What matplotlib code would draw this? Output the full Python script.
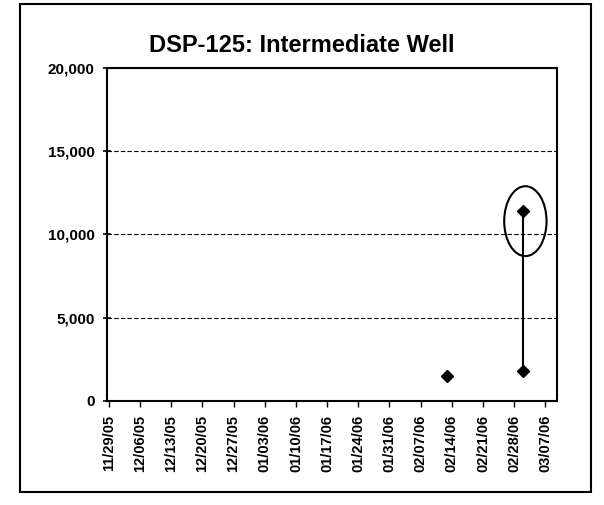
import datetime as dt
import matplotlib
matplotlib.use("Agg")
import matplotlib.pyplot as plt
import matplotlib.dates as mdates
from matplotlib.patches import Ellipse, Rectangle

# data
single_dates = [dt.date(2006, 2, 13)]
single_vals = [1500]
pair_dates = [dt.date(2006, 3, 2), dt.date(2006, 3, 2)]
pair_vals = [1800, 11400]

tick_dates = [dt.date(2005, 11, 29) + dt.timedelta(days=7 * i) for i in range(15)]
yticks = [0, 5000, 10000, 15000, 20000]

plt.rcParams['font.family'] = ['Liberation Sans', 'DejaVu Sans']

fig = plt.figure(figsize=(6.04, 5.05), dpi=100)
ax = fig.add_axes([107 / 604, 1 - 401 / 505, (557 - 107) / 604, (401 - 68) / 505])

# outer chart border
fig.add_artist(Rectangle((20 / 604, 1 - 492 / 505), (591 - 20) / 604, (492 - 4) / 505,
                         transform=fig.transFigure, fill=False, lw=1.5, ec='black'))

ax.plot(single_dates, single_vals, 'D', color='black', ms=6)
ax.plot(pair_dates, pair_vals, '-D', color='black', ms=6, lw=1.5)

# hand drawn circle around the high reading
cx = mdates.date2num(pair_dates[1])
ax.add_patch(Ellipse((cx + 0.5, 10800), 9.5, 4200, fill=False, lw=1.5, ec='black'))

ax.set_ylim(0, 20000)
ax.set_xlim(mdates.date2num(dt.date(2005, 11, 29)) - 0.4, mdates.date2num(dt.date(2006, 3, 9)) + 0.6)
ax.set_yticks(yticks)
ax.set_yticklabels([f"{v:,}" for v in yticks], fontsize=11, fontweight='bold')
ax.set_xticks(tick_dates)
ax.set_xticklabels([d.strftime('%m/%d/%y') for d in tick_dates], rotation=90,
                   fontsize=10.5, fontweight='bold')
ax.tick_params(axis='y', direction='inout', length=6, width=1.2, pad=6)
ax.tick_params(axis='x', direction='out', length=4, width=1, pad=6)
ax.grid(axis='y', color='black', lw=0.8, ls=(0, (4, 2)))
for s in ax.spines.values():
    s.set_linewidth(1.5)

fig.text(0.5, 1 - 45 / 505, 'DSP-125: Intermediate Well', ha='center', va='center',
         fontsize=17, fontweight='bold')

fig.savefig('out.png', dpi=100)
